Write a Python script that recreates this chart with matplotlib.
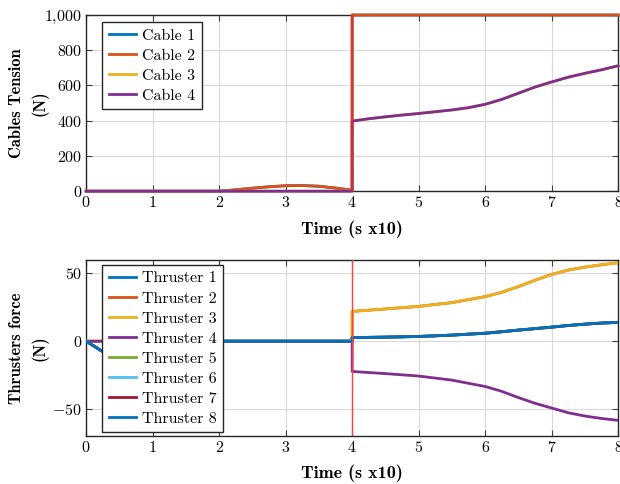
import matplotlib
matplotlib.use("Agg")
import matplotlib.pyplot as plt
from matplotlib.ticker import FuncFormatter, MultipleLocator

# ---------------- data ----------------
# Cables (before and after the jump at t=4)
t_pre = [0.0, 0.5, 1.0, 1.5, 2.0, 2.25, 2.5, 2.75, 3.0, 3.25, 3.5, 3.75, 4.0]
cable2_pre = [0, 0, 0, 0, 0, 8, 17, 25, 31, 32, 28, 18, 5]
cable4_pre = [0, 0, 0, 0, 0, 0, 0, 0, 0, 0, 0, 0, 0]

t_post = [4.0, 4.25, 4.5, 4.75, 5.0, 5.25, 5.5, 5.75, 6.0, 6.25, 6.5,
          6.75, 7.0, 7.25, 7.5, 7.75, 8.0]
cable2_post = [1000] * 17
cable4_post = [398, 411, 422, 432, 441, 451, 461, 474, 493, 521, 556,
               591, 620, 647, 669, 689, 712]

# Thrusters
tt_pre = [0.0, 0.24, 0.6, 1.0, 1.5, 2.0, 3.0, 4.0]
thr_dip_pre = [0, -7.4, -11, -7, -2, 0, 0, 0]
thr_zero_pre = [0, 0, 0, 0, 0, 0, 0, 0]

tt_post = [4.0, 4.5, 5.0, 5.5, 6.0, 6.25, 6.5, 6.75, 7.0, 7.25, 7.5, 7.75, 8.0]
thr_blue_post = [2.7, 3.0, 3.5, 4.5, 5.9, 7.0, 8.2, 9.3, 10.4, 11.6, 12.6, 13.4, 13.9]
thr_yel_post = [22.0, 23.8, 25.7, 28.5, 32.9, 36.1, 40.3, 45.0, 49.3, 52.5, 54.7, 56.4, 57.9]
thr_pur_post = [-22.3, -23.9, -25.7, -28.7, -33.4, -37.0, -41.6, -45.8, -49.3, -52.8, -55.2, -57.0, -58.4]

cable_labels = ["Cable 1", "Cable 2", "Cable 3", "Cable 4"]
thr_labels = ["Thruster %d" % i for i in range(1, 9)]

colors = ["#0072BD", "#D95319", "#EDB120", "#7E2F8E",
          "#77AC30", "#4DBEEE", "#A2142F", "#0072BD"]

# ---------------- style ----------------
plt.rcParams["font.family"] = ["cmr10", "DejaVu Serif"]
plt.rcParams["mathtext.fontset"] = "cm"
plt.rcParams["axes.unicode_minus"] = False
FS_TICK = 11.5
FS_LEG = 11.5
FS_XLAB = 13
FS_YLAB = 11.8

fig = plt.figure(figsize=(6.2, 4.84), dpi=100)
ax1 = fig.add_axes([0.139, 0.605, 0.858, 0.364])
ax2 = fig.add_axes([0.139, 0.099, 0.858, 0.364])

LW = 2.0


def series(tp, vp, tq, vq):
    return list(tp) + list(tq), list(vp) + list(vq)


# top plot
c_pre = [cable2_pre, cable2_pre, cable4_pre, cable4_pre]
c_post = [cable2_post, cable2_post, cable4_post, cable4_post]
for i in range(4):
    x, y = series(t_pre, c_pre[i], t_post, c_post[i])
    ax1.plot(x, y, color=colors[i], lw=LW, label=cable_labels[i], zorder=3,
             clip_on=False)
ax1.axvline(4.0, color="#ff2020", lw=1.2, zorder=4)

# bottom plot
th_pre = [thr_dip_pre, thr_zero_pre, thr_zero_pre, thr_zero_pre,
          thr_dip_pre, thr_dip_pre, thr_dip_pre, thr_dip_pre]
th_post = [thr_blue_post, thr_yel_post, thr_yel_post, thr_pur_post,
           thr_blue_post, thr_blue_post, thr_blue_post, thr_blue_post]
for i in range(8):
    x, y = series(tt_pre, th_pre[i], tt_post, th_post[i])
    ax2.plot(x, y, color=colors[i], lw=LW, label=thr_labels[i], zorder=3)
ax2.axvline(4.0, color="#ff4040", lw=1.0, zorder=4)


def fmt_top(v, pos):
    if abs(v - 1000) < 1e-6:
        return r"$1{,}000$"
    return r"$%d$" % int(round(v))


def fmt_bot(v, pos):
    return r"$%d$" % int(round(v))


for ax in (ax1, ax2):
    ax.set_xlim(0, 8)
    ax.xaxis.set_major_locator(MultipleLocator(1))
    ax.xaxis.set_major_formatter(FuncFormatter(lambda v, p: r"$%d$" % int(round(v))))
    ax.grid(True, color="#d9d9d9", lw=0.8, zorder=0)
    ax.tick_params(direction="in", top=True, right=True, labelsize=FS_TICK,
                   length=4, width=0.8, color="#404040", pad=3)
    for s in ax.spines.values():
        s.set_linewidth(1.0)
        s.set_color("#262626")
    ax.set_axisbelow(True)
    ax.set_xlabel("Time (s x10)", family="cmb10", fontsize=FS_XLAB, labelpad=7)

ax1.set_ylim(0, 1000)
ax1.yaxis.set_major_locator(MultipleLocator(200))
ax1.yaxis.set_major_formatter(FuncFormatter(fmt_top))
ax1.set_ylabel("Cables Tension\n(N)", family="cmb10", fontsize=FS_YLAB,
               linespacing=1.55)
ax1.yaxis.set_label_coords(-0.070, 0.5)

ax2.set_ylim(-70, 60)
ax2.set_yticks([-50, 0, 50])
ax2.yaxis.set_major_formatter(FuncFormatter(fmt_bot))
ax2.set_ylabel("Thrusters force\n(N)", family="cmb10", fontsize=FS_YLAB,
               linespacing=1.55)
ax2.yaxis.set_label_coords(-0.070, 0.5)

leg_kw = dict(loc="upper left", fontsize=FS_LEG, fancybox=False, framealpha=1,
              edgecolor="#262626", handlelength=1.7, handletextpad=0.4,
              borderpad=0.4, labelspacing=0.37, borderaxespad=0.0)
l1 = ax1.legend(bbox_to_anchor=(0.030, 0.96), **leg_kw)
l1.get_frame().set_linewidth(1.0)
l2 = ax2.legend(bbox_to_anchor=(0.030, 0.972), **leg_kw)
l2.get_frame().set_linewidth(1.0)

fig.savefig("out.png", dpi=100)
